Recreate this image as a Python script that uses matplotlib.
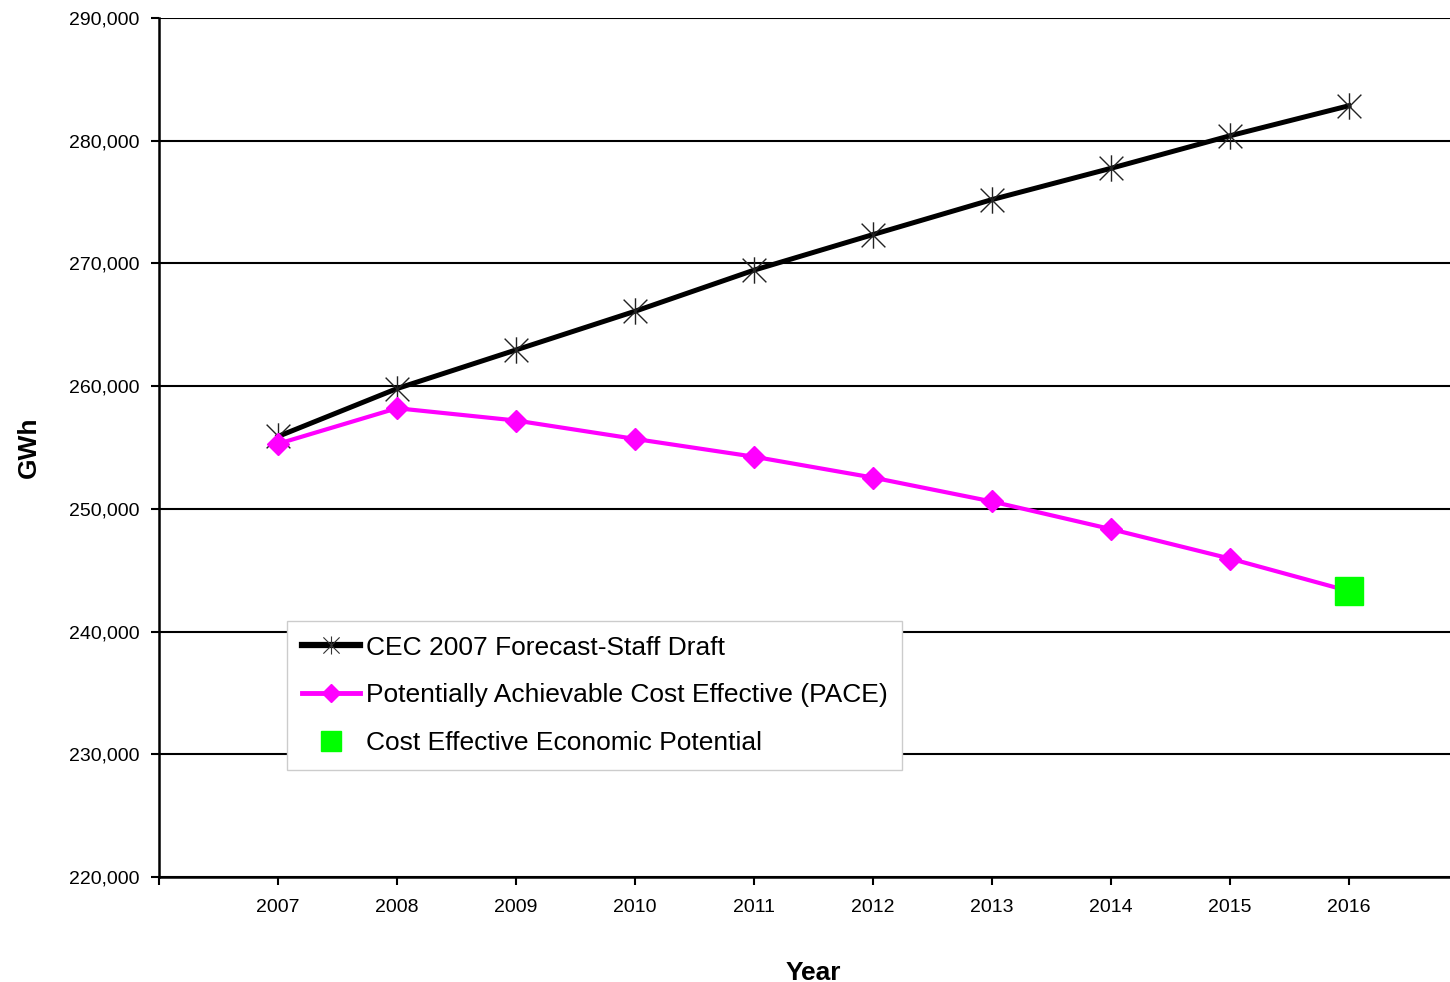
import matplotlib
matplotlib.use("Agg")
import matplotlib.pyplot as plt
from matplotlib.lines import Line2D
from matplotlib.path import Path
from matplotlib.ticker import FuncFormatter, FixedLocator

plt.rcParams['font.family'] = ['Liberation Sans', 'DejaVu Sans']

# Data
years = [2007, 2008, 2009, 2010, 2011, 2012, 2013, 2014, 2015, 2016]
cec_forecast = [255900, 259800, 262950, 266100, 269450, 272350, 275200, 277750, 280400, 282850]
pace = [255300, 258200, 257200, 255700, 254250, 252550, 250600, 248350, 245950, 243300]
economic_year = [2016]
economic_potential = [243300]
y_ticks = [220000, 230000, 240000, 250000, 260000, 270000, 280000, 290000]

labels = ["CEC 2007 Forecast-Staff Draft",
          "Potentially Achievable Cost Effective (PACE)",
          "Cost Effective Economic Potential"]

# Asterisk marker: an X crossed by a vertical stroke
star = Path([(0, -1), (0, 1), (-0.9, -0.9), (0.9, 0.9), (-0.9, 0.9), (0.9, -0.9)],
            [Path.MOVETO, Path.LINETO, Path.MOVETO, Path.LINETO, Path.MOVETO, Path.LINETO])

W, H = 1450, 982
fig = plt.figure(figsize=(W / 100, H / 100), dpi=100)
ax = fig.add_axes([159 / W, 1 - 877 / H, 1 - 159 / W, (877 - 18) / H])

ax.plot(years, cec_forecast, color='black', lw=3.6, marker=star, ms=19,
        mec='#222222', mfc='none', mew=1.0, zorder=4)
ax.plot(years, pace, color='#ff00ff', lw=3.0, marker='D', ms=11,
        mec='#ff00ff', mfc='#ff00ff', zorder=5)
ax.plot(economic_year, economic_potential, ls='none', marker='s', ms=20,
        mfc='#00ff00', mec='#00ff00', zorder=6)

ax.set_ylim(220000, 290000)
ax.set_xlim(2006, 2016.85)
ax.set_yticks(y_ticks)
ax.yaxis.set_major_formatter(FuncFormatter(lambda v, p: f"{int(v):,}"))
ax.xaxis.set_major_locator(FixedLocator([2006] + years + [2017]))
ax.xaxis.set_major_formatter(FuncFormatter(
    lambda v, p: str(int(round(v))) if 2007 <= round(v) <= 2016 else ""))

ax.grid(axis='y', color='black', lw=1.5)
ax.set_axisbelow(True)
for side in ('top', 'right'):
    ax.spines[side].set_visible(False)
for side in ('left', 'bottom'):
    ax.spines[side].set_linewidth(1.8)
    ax.spines[side].set_color('black')

ax.tick_params(axis='both', direction='out', length=6, width=1.5, colors='black',
               labelsize=14)
ax.tick_params(axis='x', pad=10)
ax.tick_params(axis='y', pad=8)

ax.set_ylabel("GWh", fontsize=19, fontweight='bold', labelpad=20)
ax.set_xlabel("Year", fontsize=19, fontweight='bold', labelpad=32)
ax.xaxis.label.set_x(0.507)

handles = [
    Line2D([], [], color='black', lw=4.5, marker=star, ms=13, mec='#333333',
           mfc='none', mew=0.8),
    Line2D([], [], color='#ff00ff', lw=3.5, marker='D', ms=9,
           mec='#ff00ff', mfc='#ff00ff'),
    Line2D([], [], ls='none', marker='s', ms=14, mfc='#00ff00', mec='#00ff00'),
]
leg = fig.legend(handles, labels, loc='upper left',
                 bbox_to_anchor=(287 / W, 1 - 621 / H), borderaxespad=0,
                 fontsize=19, frameon=True, fancybox=False, framealpha=1,
                 edgecolor='#cccccc', handlelength=2.2, handletextpad=0.25,
                 labelspacing=0.9, borderpad=0.55)
leg.get_frame().set_linewidth(1.0)

fig.savefig("out.png", dpi=100, facecolor='white')
